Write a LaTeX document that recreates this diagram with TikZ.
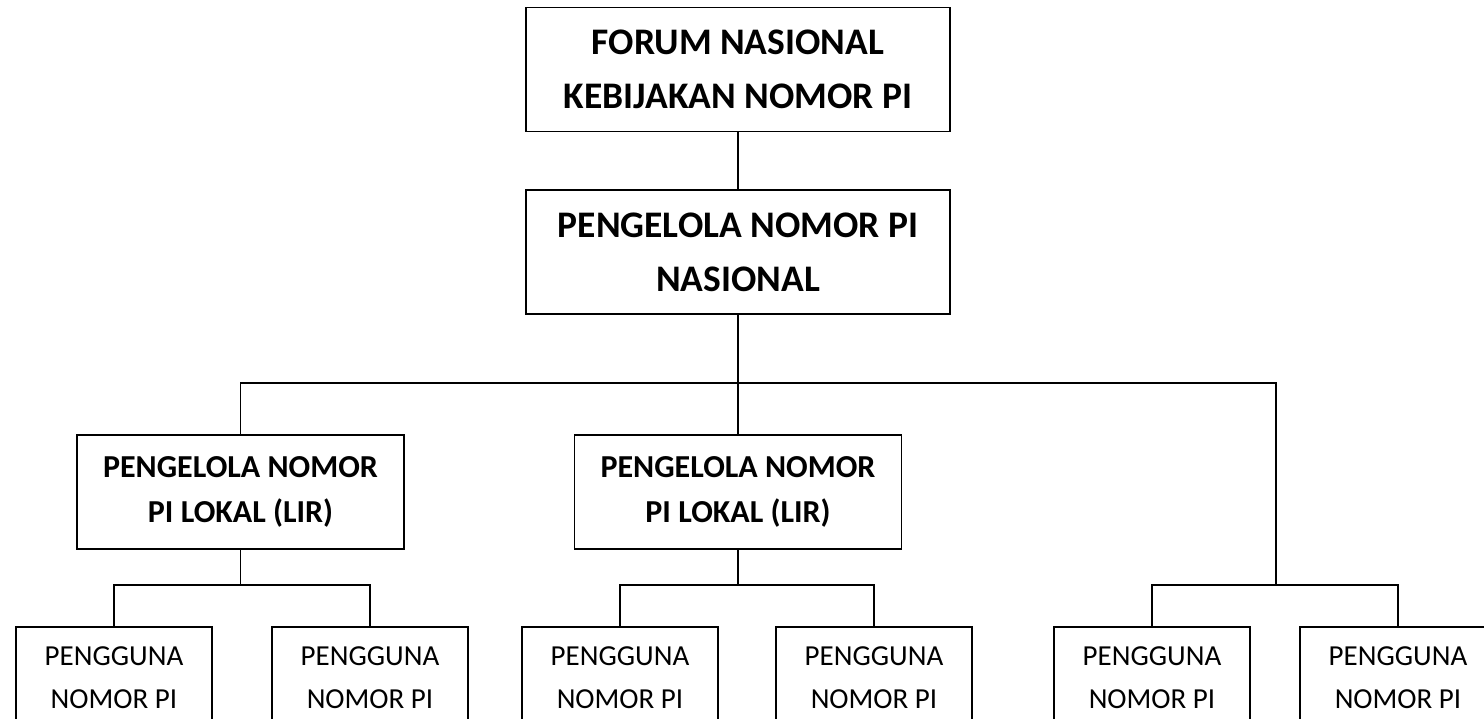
\documentclass[tikz,border=0pt]{standalone}
\usepackage{fontspec}
\setmainfont{Carlito}
\begin{document}
\begin{tikzpicture}[x=1pt,y=-1pt,
  conn/.style={line width=1.9pt,black},
  boxbase/.style={draw,line width=1.9pt,align=center,inner sep=0pt,anchor=center},
  topbox/.style={boxbase,minimum width=424pt,minimum height=124pt,font=\fontsize{37.5}{54}\selectfont\bfseries},
  lirbox/.style={boxbase,minimum width=327pt,minimum height=114pt,font=\fontsize{32}{45}\selectfont\bfseries},
  userbox/.style={boxbase,minimum width=196pt,minimum height=102pt,font=\fontsize{29}{43}\selectfont}]
\useasboundingbox (0,0) rectangle (1484,718);
\fill[white] (0,0) rectangle (1484,718);
\clip (0,0) rectangle (1484,718);

\node[topbox] (forum) at (738,69.5) {FORUM NASIONAL\\KEBIJAKAN NOMOR PI};
\node[topbox] (pnas) at (738,252) {PENGELOLA NOMOR PI\\NASIONAL};
\node[lirbox] (lir1) at (240.5,492) {PENGELOLA NOMOR\\PI LOKAL (LIR)};
\node[lirbox] (lir2) at (738,492) {PENGELOLA NOMOR\\PI LOKAL (LIR)};

\node[userbox] (u1) at (114,678) {PENGGUNA\\NOMOR PI};
\node[userbox] (u2) at (370,678) {PENGGUNA\\NOMOR PI};
\node[userbox] (u3) at (620,678) {PENGGUNA\\NOMOR PI};
\node[userbox] (u4) at (874,678) {PENGGUNA\\NOMOR PI};
\node[userbox] (u5) at (1152,678) {PENGGUNA\\NOMOR PI};
\node[userbox] (u6) at (1398,678) {PENGGUNA\\NOMOR PI};

\coordinate (busL) at (240.5,383);
\coordinate (busR) at (1276,383);
\coordinate (c1) at (240.5,585);
\coordinate (c2) at (738,585);
\coordinate (c3) at (1276,585);

\draw[conn] (forum) -- (pnas);
\draw[conn] (pnas) -- (lir2);
\draw[conn] (lir1.north) -- (busL) -- (busR) -- (c3);
\draw[conn] (lir1.south) -- (c1);
\draw[conn] (lir2.south) -- (c2);
\draw[conn] (u1.north) |- (c1) -| (u2.north);
\draw[conn] (u3.north) |- (c2) -| (u4.north);
\draw[conn] (u5.north) |- (c3) -| (u6.north);
\end{tikzpicture}
\end{document}
